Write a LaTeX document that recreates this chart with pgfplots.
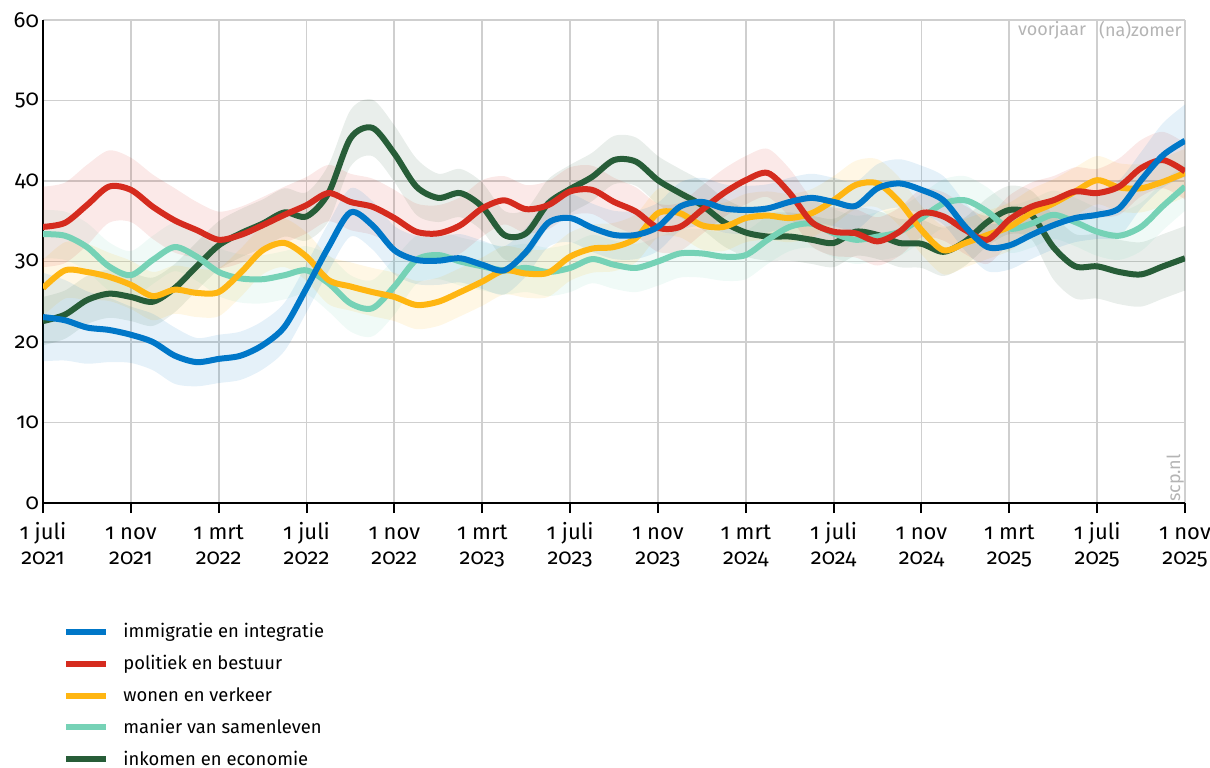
\documentclass[border=0pt]{standalone}
\usepackage{fontspec}
\setmainfont[Numbers=OldStyle]{Fira Sans}
\usepackage{pgfplots}
\pgfplotsset{compat=1.18}
\usepgfplotslibrary{fillbetween}
\usepackage{pgfplotstable}

\definecolor{cblue}{HTML}{0077C8}
\definecolor{cred}{HTML}{D52B1E}
\definecolor{cyel}{HTML}{FFB612}
\definecolor{cmint}{HTML}{76D2B6}
\definecolor{cgreen}{HTML}{275D38}
\definecolor{cgrid}{HTML}{CFCFCF}
\definecolor{clabel}{HTML}{B4B4B4}

\newcommand{\tl}[2]{\rule{0pt}{9.5pt}#1\\#2}

% m = maanden sinds 1 juli 2021, v = waarde, e = halve bandbreedte
\pgfplotstableread{
m v e
0 23.1 5.5
1 22.7 5.0
2 21.8 4.5
3 21.5 4.0
4 20.9 3.5
5 20.0 3.5
6 18.3 3.5
7 17.5 3.0
8 17.9 3.0
9 18.3 3.0
10 19.6 3.0
11 21.9 3.0
12 26.7 3.0
13 31.8 3.0
14 36.1 3.0
15 34.5 3.0
16 31.4 3.0
17 30.2 3.0
18 30.1 3.0
19 30.4 3.0
20 29.6 3.0
21 28.9 3.0
22 31.2 3.0
23 34.8 3.0
24 35.4 3.0
25 34.2 3.0
26 33.3 3.0
27 33.3 3.0
28 34.3 3.0
29 36.8 3.0
30 37.4 3.0
31 36.6 3.0
32 36.4 3.0
33 36.6 3.0
34 37.4 3.0
35 37.9 3.0
36 37.4 3.0
37 36.9 3.0
38 39.1 3.0
39 39.7 3.0
40 38.9 3.0
41 37.6 3.0
42 34.3 3.0
43 31.8 3.0
44 32.0 3.0
45 33.3 3.0
46 34.5 3.0
47 35.4 3.0
48 35.8 3.0
49 36.6 3.5
50 40.1 3.5
51 43.2 4.0
52 45.0 4.5
}\tblue

\pgfplotstableread{
m v e
0 34.3 5.0
1 34.8 5.0
2 37.0 5.0
3 39.3 4.5
4 38.9 4.0
5 36.8 4.0
6 35.1 4.0
7 33.9 3.5
8 32.7 3.5
9 33.3 3.5
10 34.5 3.5
11 35.8 3.5
12 37.0 3.5
13 38.5 3.5
14 37.4 3.5
15 36.8 3.5
16 35.4 3.5
17 33.7 3.5
18 33.5 3.5
19 34.5 3.5
20 36.6 3.5
21 37.6 3.0
22 36.5 3.0
23 37.0 3.0
24 38.7 3.0
25 38.9 3.0
26 37.4 3.0
27 36.2 3.0
28 34.2 3.0
29 34.3 3.0
30 36.4 3.0
31 38.5 3.0
32 40.1 3.0
33 41.0 3.0
34 38.5 3.0
35 34.9 3.0
36 33.7 3.0
37 33.5 3.0
38 32.5 3.0
39 33.7 3.0
40 36.0 3.0
41 35.6 3.0
42 33.9 3.0
43 32.7 3.0
44 35.2 3.0
45 36.8 3.0
46 37.6 3.0
47 38.7 3.0
48 38.5 3.0
49 39.3 3.5
50 41.6 3.5
51 42.6 3.5
52 41.2 3.5
}\tred

\pgfplotstableread{
m v e
0 26.7 3.5
1 28.9 3.5
2 28.7 3.5
3 28.1 3.0
4 27.1 3.0
5 25.7 3.0
6 26.5 3.0
7 26.1 3.0
8 26.2 3.0
9 28.6 3.0
10 31.4 3.0
11 32.3 3.0
12 30.6 3.0
13 27.7 3.0
14 26.9 3.0
15 26.2 3.0
16 25.6 3.0
17 24.6 3.0
18 25.0 3.0
19 26.2 3.0
20 27.5 3.0
21 28.9 3.0
22 28.5 3.0
23 28.6 3.0
24 30.6 3.0
25 31.6 3.0
26 31.8 3.0
27 32.9 3.0
28 36.0 3.0
29 36.0 3.0
30 34.5 3.0
31 34.3 3.0
32 35.4 3.0
33 35.7 3.0
34 35.4 3.0
35 36.0 3.0
36 37.6 3.0
37 39.5 3.0
38 39.7 3.0
39 37.4 3.0
40 33.9 3.0
41 31.4 3.0
42 32.3 3.0
43 33.3 3.0
44 34.3 3.0
45 36.0 3.0
46 37.2 3.0
47 38.7 3.0
48 40.1 3.0
49 39.2 3.0
50 39.1 3.0
51 39.9 3.0
52 41.0 3.0
}\tyel

\pgfplotstableread{
m v e
0 33.4 3.0
1 33.2 3.0
2 31.8 3.0
3 29.4 3.0
4 28.3 3.0
5 30.2 3.0
6 31.8 3.0
7 30.6 3.0
8 28.7 3.0
9 27.9 3.0
10 27.8 3.0
11 28.3 3.0
12 28.9 3.0
13 27.3 3.5
14 24.8 3.5
15 24.2 3.5
16 26.9 3.5
17 30.2 3.0
18 30.8 3.0
19 30.0 3.0
20 29.4 3.0
21 28.9 3.0
22 29.2 3.0
23 28.7 3.0
24 29.2 3.0
25 30.3 3.0
26 29.6 3.0
27 29.2 3.0
28 30.0 3.0
29 31.0 3.0
30 31.0 3.0
31 30.6 3.0
32 30.8 3.0
33 32.7 3.0
34 34.3 3.0
35 34.7 3.0
36 33.5 3.0
37 32.7 3.0
38 33.1 3.0
39 33.7 3.0
40 35.4 3.0
41 37.2 3.0
42 37.6 3.0
43 36.2 3.0
44 34.1 3.0
45 34.7 3.0
46 35.8 3.0
47 34.9 3.0
48 33.7 3.0
49 33.2 3.0
50 34.3 3.0
51 36.9 3.0
52 39.3 3.0
}\tmint

\pgfplotstableread{
m v e
0 22.6 3.0
1 23.4 3.0
2 25.2 3.0
3 26.0 3.0
4 25.6 3.0
5 25.0 3.0
6 26.7 3.0
7 29.4 3.0
8 32.0 3.0
9 33.5 3.0
10 34.7 3.0
11 36.1 3.0
12 35.6 3.0
13 38.5 3.5
14 45.3 3.5
15 46.6 3.5
16 43.4 3.5
17 39.3 3.5
18 37.9 3.0
19 38.5 3.0
20 36.8 3.0
21 33.3 3.0
22 33.5 3.0
23 37.2 3.0
24 39.0 3.0
25 40.5 3.0
26 42.6 3.0
27 42.4 3.0
28 40.1 3.0
29 38.5 3.0
30 37.0 3.0
31 34.9 3.0
32 33.6 3.0
33 33.1 3.0
34 33.1 3.0
35 32.7 3.0
36 32.3 3.0
37 33.7 3.0
38 33.3 3.0
39 32.3 3.0
40 32.2 3.0
41 31.2 3.0
42 32.5 3.0
43 34.9 3.0
44 36.4 3.0
45 35.8 3.0
46 31.8 4.0
47 29.4 4.0
48 29.4 4.0
49 28.7 4.0
50 28.4 4.0
51 29.4 4.0
52 30.4 4.0
}\tgreen

\begin{document}
\begin{tikzpicture}
\begin{axis}[
  at={(21.5pt,132pt)}, anchor=south west,
  scale only axis, width=571pt, height=241.5pt,
  xmin=0, xmax=52, ymin=0, ymax=60,
  clip mode=individual,
  axis lines=left, axis line style={-, black, line width=1pt},
  xtick={0,4,...,52},
  xticklabels={{\tl{1 juli}{2021}},{\tl{1 nov}{2021}},{\tl{1 mrt}{2022}},{\tl{1 juli}{2022}},{\tl{1 nov}{2022}},{\tl{1 mrt}{2023}},{\tl{1 juli}{2023}},{\tl{1 nov}{2023}},{\tl{1 mrt}{2024}},{\tl{1 juli}{2024}},{\tl{1 nov}{2024}},{\tl{1 mrt}{2025}},{\tl{1 juli}{2025}},{\tl{1 nov}{2025}}},
  xticklabel style={align=center, font=\fontsize{11}{12.5}\selectfont},
  ytick={0,10,...,60},
  yticklabel style={font=\fontsize{11}{12}\selectfont, xshift=1.5pt},
  /pgf/number format/assume math mode=true,
  xtick align=outside, ytick align=inside, major tick length=5pt,
  x tick style={black, line width=1pt},
  y tick style={draw=none},
  grid=major, major grid style={cgrid, line width=0.9pt},
  legend style={draw=none, fill=none, at={(axis description cs:0,0)}, anchor=north west,
    xshift=7pt, yshift=-56pt, row sep=3.3pt, column sep=5pt,
    font=\fontsize{9.2}{11}\selectfont},
  legend cell align=left,
  legend image code/.code={\draw[#1, line width=3pt] (0pt,0pt) -- (20pt,0pt);},
]
\addlegendimage{cblue}\addlegendentry{immigratie en integratie}
\addlegendimage{cred}\addlegendentry{politiek en bestuur}
\addlegendimage{cyel}\addlegendentry{wonen en verkeer}
\addlegendimage{cmint}\addlegendentry{manier van samenleven}
\addlegendimage{cgreen}\addlegendentry{inkomen en economie}

% banden
\addplot[draw=none, smooth, name path=gu, forget plot] table[x=m, y expr=\thisrow{v}+\thisrow{e}] {\tgreen};
\addplot[draw=none, smooth, name path=gl, forget plot] table[x=m, y expr=\thisrow{v}-\thisrow{e}] {\tgreen};
\addplot[cgreen, fill opacity=0.1, forget plot] fill between[of=gu and gl];
\addplot[draw=none, smooth, name path=mu, forget plot] table[x=m, y expr=\thisrow{v}+\thisrow{e}] {\tmint};
\addplot[draw=none, smooth, name path=ml, forget plot] table[x=m, y expr=\thisrow{v}-\thisrow{e}] {\tmint};
\addplot[cmint, fill opacity=0.11, forget plot] fill between[of=mu and ml];
\addplot[draw=none, smooth, name path=yu, forget plot] table[x=m, y expr=\thisrow{v}+\thisrow{e}] {\tyel};
\addplot[draw=none, smooth, name path=yl, forget plot] table[x=m, y expr=\thisrow{v}-\thisrow{e}] {\tyel};
\addplot[cyel, fill opacity=0.11, forget plot] fill between[of=yu and yl];
\addplot[draw=none, smooth, name path=ru, forget plot] table[x=m, y expr=\thisrow{v}+\thisrow{e}] {\tred};
\addplot[draw=none, smooth, name path=rl, forget plot] table[x=m, y expr=\thisrow{v}-\thisrow{e}] {\tred};
\addplot[cred, fill opacity=0.1, forget plot] fill between[of=ru and rl];
\addplot[draw=none, smooth, name path=bu, forget plot] table[x=m, y expr=\thisrow{v}+\thisrow{e}] {\tblue};
\addplot[draw=none, smooth, name path=bl, forget plot] table[x=m, y expr=\thisrow{v}-\thisrow{e}] {\tblue};
\addplot[cblue, fill opacity=0.1, forget plot] fill between[of=bu and bl];

% lijnen
\addplot[cgreen, line width=3pt, smooth, forget plot] table[x=m, y=v] {\tgreen};
\addplot[cmint, line width=3pt, smooth, forget plot] table[x=m, y=v] {\tmint};
\addplot[cyel, line width=3pt, smooth, forget plot] table[x=m, y=v] {\tyel};
\addplot[cred, line width=3pt, smooth, forget plot] table[x=m, y=v] {\tred};
\addplot[cblue, line width=3pt, smooth, forget plot] table[x=m, y=v] {\tblue};

\node[anchor=east, text=clabel, font=\fontsize{9}{11}\selectfont, xshift=-2pt] at (axis cs:48,58.7) {voorjaar};
\node[anchor=west, text=clabel, font=\fontsize{9}{11}\selectfont, xshift=-2.5pt] at (axis cs:48,58.7) {(na)zomer};
\node[rotate=90, anchor=south west, text=clabel, font=\fontsize{9}{11}\selectfont, xshift=-3pt, yshift=-3pt] at (axis cs:52,0) {scp.nl};
\end{axis}
\pgfresetboundingbox
\path[use as bounding box] (0,0) rectangle (605pt,383.5pt);
\end{tikzpicture}
\end{document}
